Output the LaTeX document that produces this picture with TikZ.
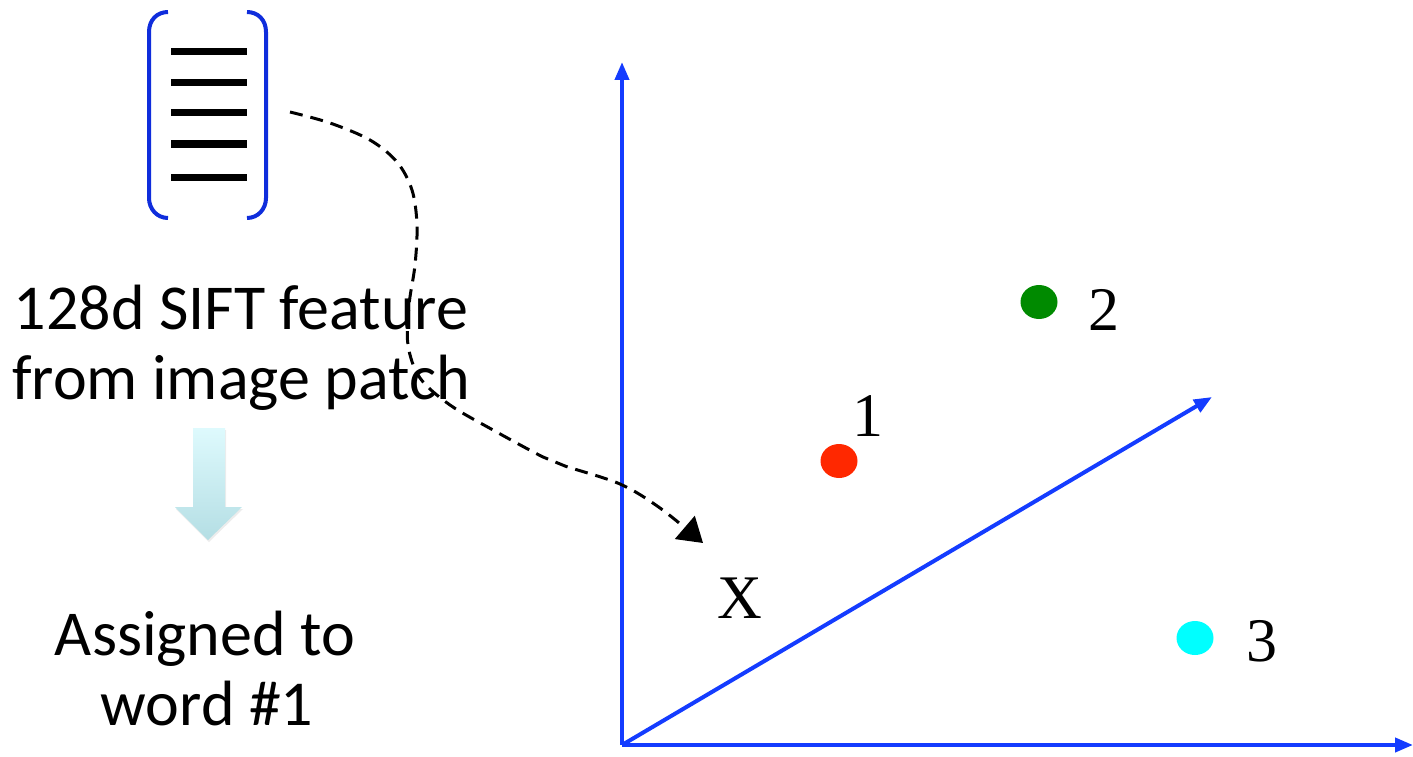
\documentclass[tikz,border=0pt]{standalone}
\usepackage{fontspec}
\setmainfont{Carlito}
\newfontfamily\serifnum{Liberation Serif}
\usetikzlibrary{arrows.meta,shapes.geometric,shadows}
\definecolor{axisblue}{RGB}{20,60,255}
\definecolor{brblue}{RGB}{15,45,220}
\definecolor{dotred}{RGB}{255,40,0}
\definecolor{dotgreen}{RGB}{0,138,0}
\definecolor{dotcyan}{RGB}{0,255,255}
\definecolor{arrtop}{RGB}{222,250,253}
\definecolor{arrbot}{RGB}{180,222,228}
\begin{document}
\begin{tikzpicture}[x=1pt,y=-1pt,
  axis/.style={draw=axisblue,line width=4pt,-{Triangle[length=18pt,width=14pt]}},
  bracket/.style={draw=brblue,line width=4pt},
  vecline/.style={line width=7pt},
  txt/.style={inner sep=0pt,anchor=base,font=\fontsize{64}{76}\selectfont},
  num/.style={inner sep=0pt,font=\serifnum\fontsize{62}{74}\selectfont},
  dot/.style={ellipse,inner sep=0pt,minimum width=37pt,minimum height=34pt,draw=none},
  link/.style={line width=3pt,dash pattern=on 13pt off 8pt,-{Triangle[length=24pt,width=30pt]}}
]
\useasboundingbox (0,0) rectangle (1413,757);

% feature vector bracket
\draw[bracket] (168,12) .. controls (157,12) and (149,20) .. (149,32) -- (149,198) .. controls (149,209) and (157,218) .. (168,218);
\draw[bracket] (247,12) .. controls (258,12) and (266,20) .. (266,32) -- (266,198) .. controls (266,209) and (258,218) .. (247,218);
\foreach \yy in {52,83,113,144,177}
  \draw[vecline] (171,\yy) -- (247,\yy);
\coordinate (vecout) at (290,112);

% left texts
\node[txt] (t1) at (241,329) {128d SIFT feature};
\node[txt] (t2) at (241,399) {from image patch};
\node[txt] (t3) at (205,655) {Assigned to};
\node[txt] (t4) at (207,725) {word \#1};

% down arrow
\path[drop shadow={shadow xshift=1pt,shadow yshift=-2pt,opacity=0.15},
      top color=arrtop,bottom color=arrbot]
  (193,428) -- (225,428) -- (225,507) -- (242,507) -- (208,540) -- (175,507) -- (193,507) -- cycle;

% axes
\coordinate (O) at (622,745);
\coordinate (yend) at (622,62);
\coordinate (xend) at (1413,745);
\coordinate (zend) at (1212,397);
\draw[axis] (O) -- (yend);
\draw[axis] (O) -- (xend);
\draw[axis] (O) -- (zend);

% cluster centres
\node[dot,fill=dotred] (p1) at (839,461) {};
\node[dot,fill=dotgreen] (p2) at (1039,302) {};
\node[dot,fill=dotcyan] (p3) at (1195,638) {};
\node[num] (l1) at (868,416) {1};
\node[num] (l2) at (1104,310) {2};
\node[num] (l3) at (1262,641) {3};
\node[num] (lx) at (740,598) {X};

% mapping arrow
\coordinate (tip) at (703,543);
\draw[link] plot[smooth,tension=0.55] coordinates {(vecout) (330,123) (370,140) (397,162) (412,190) (417,225) (415,265) (409,305) (408,345) (420,378) (450,405) (493,430) (543,457) (565,466) (620,484) (660,508) (tip)};
\end{tikzpicture}
\end{document}
